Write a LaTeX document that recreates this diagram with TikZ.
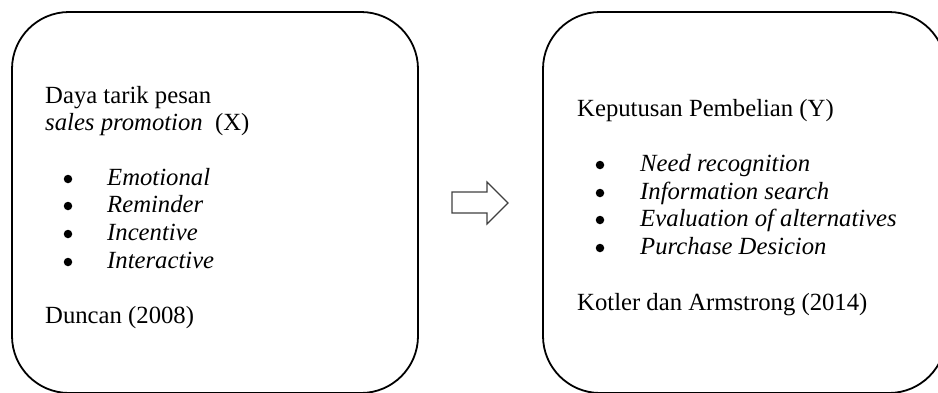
\documentclass[tikz,border=0pt]{standalone}
\usepackage{fontspec}
\setmainfont{Liberation Serif}
\begin{document}
\begin{tikzpicture}[x=1pt,y=-1pt,
  panel/.style={draw=black, line width=1.8pt, rounded corners=57pt, inner sep=0pt},
  txt/.style={anchor=base west, inner sep=0pt, font=\fontsize{24.7}{28}\selectfont},
  itxt/.style={txt, font=\fontsize{24.7}{28}\selectfont\itshape},
  bul/.style={circle, fill=black, inner sep=0pt, minimum size=8.5pt},
  arr/.style={draw=black!75, line width=1.1pt, fill=white}]
\useasboundingbox (0,0) rectangle (938,392);
\begin{scope}
\clip (0,0) rectangle (938,392);
\node[panel, minimum width=406pt, minimum height=381pt] (L) at (215,202.5) {};
\node[panel, minimum width=403pt, minimum height=381pt] (R) at (744.5,202.5) {};
\end{scope}
% left texts
\node[txt]  (l1) at (45,103) {Daya tarik pesan};
\node[txt]  (l2) at (45,130) {\textit{sales promotion}~~(X)};
\node[bul]  (lb1) at (68,179) {};
\node[itxt] (l3) at (107,185) {Emotional};
\node[bul]  (lb2) at (68,206) {};
\node[itxt] (l4) at (107,212) {Reminder};
\node[bul]  (lb3) at (68,234) {};
\node[itxt] (l5) at (107,240) {Incentive};
\node[bul]  (lb4) at (68,262) {};
\node[itxt] (l6) at (107,268) {Interactive};
\node[txt]  (l7) at (45,323) {Duncan (2008)};
% right texts
\node[txt]  (r1) at (577,116) {Keputusan Pembelian (Y)};
\node[bul]  (rb1) at (600,165) {};
\node[itxt] (r2) at (640,171) {Need recognition};
\node[bul]  (rb2) at (600,193) {};
\node[itxt] (r3) at (640,199) {Information search};
\node[bul]  (rb3) at (600,220) {};
\node[itxt] (r4) at (640,226) {Evaluation of alternatives};
\node[bul]  (rb4) at (600,248) {};
\node[itxt] (r5) at (640,254) {Purchase Desicion};
\node[txt]  (r6) at (577,310) {Kotler dan Armstrong (2014)};
% arrow
\draw[arr] (452,192) -- (487,192) -- (487,182) -- (508,203) -- (487,224) -- (487,213) -- (452,213) -- cycle;
\end{tikzpicture}
\end{document}
